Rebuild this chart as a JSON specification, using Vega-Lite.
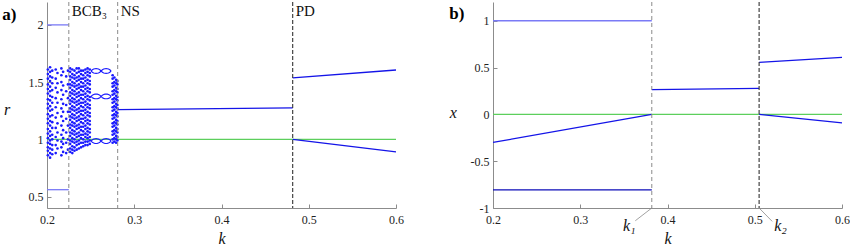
{
"$schema":"https://vega.github.io/schema/vega-lite/v6.json",
"padding":{"left":2,"top":1,"right":0,"bottom":0},
"bounds":"flush",
"spacing":97,
"resolve":{"scale":{"x":"independent","y":"independent","color":"independent"}},
"config":{
 "view":{"stroke":null},
 "font":"Liberation Serif",
 "text":{"font":"Liberation Serif"},
 "axis":{"domainColor":"#8c8c8c","domainWidth":1,"tickColor":"#8c8c8c","tickSize":-4,"tickWidth":1,"labelPadding":8,"labelFont":"Liberation Serif","labelFontSize":12,"labelColor":"#222","labelFlush":false,"labelOverlap":false,"labelBound":false,"grid":false,"titleFont":"Liberation Serif","titleFontSize":16,"titleFontStyle":"italic","titleFontWeight":"normal","titleColor":"#111"},
 "axisX":{"labelPadding":10}
},
"datasets":{
 "segA":[
  {"k":0.2,"r":1,"k2":0.6,"r2":1,"tone":"fixed"},
  {"k":0.2,"r":2.0,"k2":0.225,"r2":2.0,"tone":"faint"},
  {"k":0.2,"r":0.56,"k2":0.225,"r2":0.56,"tone":"faint"},
  {"k":0.281,"r":1.26,"k2":0.4816,"r2":1.275,"tone":"orbit"},
  {"k":0.4816,"r":1.537,"k2":0.6,"r2":1.606,"tone":"orbit"},
  {"k":0.4816,"r":1.0,"k2":0.6,"r2":0.89,"tone":"orbit"}
 ],
 "bifA":[
  {"k":0.225,"r":2.08,"name":"BCB₃","kind":"minor"},
  {"k":0.281,"r":2.08,"name":"NS","kind":"minor"},
  {"k":0.4816,"r":2.08,"name":"PD","kind":"major"}
 ],
 "tagA":[{"k":0.1487,"r":2.087,"t":"a)"}],
 "segB":[
  {"k":0.2,"x":0,"k2":0.6,"x2":0,"tone":"fixed"},
  {"k":0.2,"x":1,"k2":0.382,"x2":1,"tone":"faint"},
  {"k":0.2,"x":-0.3,"k2":0.382,"x2":0,"tone":"orbit"},
  {"k":0.2,"x":-0.807,"k2":0.382,"x2":-0.807,"tone":"deep"},
  {"k":0.382,"x":0.264,"k2":0.505,"x2":0.277,"tone":"orbit"},
  {"k":0.505,"x":0.555,"k2":0.6,"x2":0.608,"tone":"orbit"},
  {"k":0.505,"x":0,"k2":0.6,"x2":-0.092,"tone":"orbit"}
 ],
 "bifB":[
  {"k":0.382,"name":"k₁","kind":"minor"},
  {"k":0.505,"name":"k₂","kind":"major"}
 ],
 "leadB":[
  {"k":0.382,"x":-1,"k2":0.3631,"x2":-1.136,"t":"k₁","kt":0.3562,"xt":-1.189},
  {"k":0.505,"x":-1,"k2":0.52,"x2":-1.143,"t":"k₂","kt":0.5295,"xt":-1.189}
 ],
 "tagB":[{"k":0.1498,"x":1.075,"t":"b)"}],
 "loops":[
  {"c":"U1a","k":0.2505,"r":1.597},{"c":"U1a","k":0.252,"r":1.608},{"c":"U1a","k":0.2535,"r":1.614},{"c":"U1a","k":0.255,"r":1.617},{"c":"U1a","k":0.2563,"r":1.618},{"c":"U1a","k":0.2575,"r":1.617},{"c":"U1a","k":0.259,"r":1.614},{"c":"U1a","k":0.2605,"r":1.608},{"c":"U1a","k":0.262,"r":1.597},
  {"c":"U1b","k":0.2505,"r":1.597},{"c":"U1b","k":0.252,"r":1.586},{"c":"U1b","k":0.2535,"r":1.580},{"c":"U1b","k":0.255,"r":1.577},{"c":"U1b","k":0.2563,"r":1.576},{"c":"U1b","k":0.2575,"r":1.577},{"c":"U1b","k":0.259,"r":1.580},{"c":"U1b","k":0.2605,"r":1.586},{"c":"U1b","k":0.262,"r":1.597},
  {"c":"U2a","k":0.262,"r":1.597},{"c":"U2a","k":0.2635,"r":1.608},{"c":"U2a","k":0.265,"r":1.614},{"c":"U2a","k":0.2665,"r":1.617},{"c":"U2a","k":0.2678,"r":1.618},{"c":"U2a","k":0.269,"r":1.617},{"c":"U2a","k":0.2705,"r":1.614},{"c":"U2a","k":0.272,"r":1.608},{"c":"U2a","k":0.2735,"r":1.597},
  {"c":"U2b","k":0.262,"r":1.597},{"c":"U2b","k":0.2635,"r":1.586},{"c":"U2b","k":0.265,"r":1.580},{"c":"U2b","k":0.2665,"r":1.577},{"c":"U2b","k":0.2678,"r":1.576},{"c":"U2b","k":0.269,"r":1.577},{"c":"U2b","k":0.2705,"r":1.580},{"c":"U2b","k":0.272,"r":1.586},{"c":"U2b","k":0.2735,"r":1.597},
  {"c":"M1a","k":0.2505,"r":1.375},{"c":"M1a","k":0.252,"r":1.386},{"c":"M1a","k":0.2535,"r":1.392},{"c":"M1a","k":0.255,"r":1.395},{"c":"M1a","k":0.2563,"r":1.396},{"c":"M1a","k":0.2575,"r":1.395},{"c":"M1a","k":0.259,"r":1.392},{"c":"M1a","k":0.2605,"r":1.386},{"c":"M1a","k":0.262,"r":1.375},
  {"c":"M1b","k":0.2505,"r":1.375},{"c":"M1b","k":0.252,"r":1.364},{"c":"M1b","k":0.2535,"r":1.358},{"c":"M1b","k":0.255,"r":1.355},{"c":"M1b","k":0.2563,"r":1.354},{"c":"M1b","k":0.2575,"r":1.355},{"c":"M1b","k":0.259,"r":1.358},{"c":"M1b","k":0.2605,"r":1.364},{"c":"M1b","k":0.262,"r":1.375},
  {"c":"M2a","k":0.262,"r":1.375},{"c":"M2a","k":0.2635,"r":1.386},{"c":"M2a","k":0.265,"r":1.392},{"c":"M2a","k":0.2665,"r":1.395},{"c":"M2a","k":0.2678,"r":1.396},{"c":"M2a","k":0.269,"r":1.395},{"c":"M2a","k":0.2705,"r":1.392},{"c":"M2a","k":0.272,"r":1.386},{"c":"M2a","k":0.2735,"r":1.375},
  {"c":"M2b","k":0.262,"r":1.375},{"c":"M2b","k":0.2635,"r":1.364},{"c":"M2b","k":0.265,"r":1.358},{"c":"M2b","k":0.2665,"r":1.355},{"c":"M2b","k":0.2678,"r":1.354},{"c":"M2b","k":0.269,"r":1.355},{"c":"M2b","k":0.2705,"r":1.358},{"c":"M2b","k":0.272,"r":1.364},{"c":"M2b","k":0.2735,"r":1.375},
  {"c":"L1a","k":0.2505,"r":0.985},{"c":"L1a","k":0.252,"r":0.996},{"c":"L1a","k":0.2535,"r":1.002},{"c":"L1a","k":0.255,"r":1.005},{"c":"L1a","k":0.2563,"r":1.006},{"c":"L1a","k":0.2575,"r":1.005},{"c":"L1a","k":0.259,"r":1.002},{"c":"L1a","k":0.2605,"r":0.996},{"c":"L1a","k":0.262,"r":0.985},
  {"c":"L1b","k":0.2505,"r":0.985},{"c":"L1b","k":0.252,"r":0.974},{"c":"L1b","k":0.2535,"r":0.968},{"c":"L1b","k":0.255,"r":0.965},{"c":"L1b","k":0.2563,"r":0.964},{"c":"L1b","k":0.2575,"r":0.965},{"c":"L1b","k":0.259,"r":0.968},{"c":"L1b","k":0.2605,"r":0.974},{"c":"L1b","k":0.262,"r":0.985},
  {"c":"L2a","k":0.262,"r":0.985},{"c":"L2a","k":0.2635,"r":0.996},{"c":"L2a","k":0.265,"r":1.002},{"c":"L2a","k":0.2665,"r":1.005},{"c":"L2a","k":0.2678,"r":1.006},{"c":"L2a","k":0.269,"r":1.005},{"c":"L2a","k":0.2705,"r":1.002},{"c":"L2a","k":0.272,"r":0.996},{"c":"L2a","k":0.2735,"r":0.985},
  {"c":"L2b","k":0.262,"r":0.985},{"c":"L2b","k":0.2635,"r":0.974},{"c":"L2b","k":0.265,"r":0.968},{"c":"L2b","k":0.2665,"r":0.965},{"c":"L2b","k":0.2678,"r":0.964},{"c":"L2b","k":0.269,"r":0.965},{"c":"L2b","k":0.2705,"r":0.968},{"c":"L2b","k":0.272,"r":0.974},{"c":"L2b","k":0.2735,"r":0.985}
 ],
 "cloud":[
  {"k":0.201,"r":0.86},{"k":0.201,"r":0.90},{"k":0.201,"r":0.93},{"k":0.201,"r":0.97},{"k":0.201,"r":1.01},{"k":0.201,"r":1.05},{"k":0.201,"r":1.09},{"k":0.201,"r":1.14},{"k":0.201,"r":1.18},{"k":0.201,"r":1.22},{"k":0.201,"r":1.27},{"k":0.201,"r":1.31},{"k":0.201,"r":1.35},{"k":0.201,"r":1.40},{"k":0.201,"r":1.44},{"k":0.201,"r":1.48},{"k":0.201,"r":1.53},{"k":0.201,"r":1.57},{"k":0.201,"r":1.61},
  {"k":0.2035,"r":0.84},{"k":0.2035,"r":0.88},{"k":0.2035,"r":0.92},{"k":0.2035,"r":0.96},{"k":0.2035,"r":0.99},{"k":0.2035,"r":1.03},{"k":0.2035,"r":1.07},{"k":0.2035,"r":1.12},{"k":0.2035,"r":1.16},{"k":0.2035,"r":1.20},{"k":0.2035,"r":1.25},{"k":0.2035,"r":1.29},{"k":0.2035,"r":1.34},{"k":0.2035,"r":1.38},{"k":0.2035,"r":1.42},{"k":0.2035,"r":1.46},{"k":0.2035,"r":1.51},{"k":0.2035,"r":1.55},{"k":0.2035,"r":1.59},{"k":0.2035,"r":1.63},
  {"k":0.206,"r":0.87},{"k":0.206,"r":0.91},{"k":0.206,"r":0.95},{"k":0.206,"r":1.00},{"k":0.206,"r":1.04},{"k":0.206,"r":1.10},{"k":0.206,"r":1.15},{"k":0.206,"r":1.21},{"k":0.206,"r":1.26},{"k":0.206,"r":1.32},{"k":0.206,"r":1.37},{"k":0.206,"r":1.43},{"k":0.206,"r":1.49},{"k":0.206,"r":1.54},{"k":0.206,"r":1.60},
  {"k":0.21,"r":0.88},{"k":0.21,"r":0.95},{"k":0.21,"r":1.02},{"k":0.21,"r":1.10},{"k":0.21,"r":1.19},{"k":0.21,"r":1.28},{"k":0.21,"r":1.36},{"k":0.21,"r":1.45},{"k":0.21,"r":1.53},{"k":0.21,"r":1.61},
  {"k":0.212,"r":0.92},{"k":0.212,"r":0.99},{"k":0.212,"r":1.06},{"k":0.212,"r":1.14},{"k":0.212,"r":1.23},{"k":0.212,"r":1.32},{"k":0.212,"r":1.41},{"k":0.212,"r":1.49},{"k":0.212,"r":1.58},
  {"k":0.2165,"r":0.86},{"k":0.2165,"r":0.93},{"k":0.2165,"r":0.98},{"k":0.2165,"r":1.04},{"k":0.2165,"r":1.12},{"k":0.2165,"r":1.20},{"k":0.2165,"r":1.27},{"k":0.2165,"r":1.35},{"k":0.2165,"r":1.43},{"k":0.2165,"r":1.50},{"k":0.2165,"r":1.56},{"k":0.2165,"r":1.62},
  {"k":0.2185,"r":0.89},{"k":0.2185,"r":0.96},{"k":0.2185,"r":1.01},{"k":0.2185,"r":1.08},{"k":0.2185,"r":1.16},{"k":0.2185,"r":1.24},{"k":0.2185,"r":1.31},{"k":0.2185,"r":1.39},{"k":0.2185,"r":1.47},{"k":0.2185,"r":1.59},
  {"k":0.222,"r":0.88},{"k":0.222,"r":0.97},{"k":0.222,"r":1.06},{"k":0.222,"r":1.18},{"k":0.222,"r":1.30},{"k":0.222,"r":1.42},{"k":0.222,"r":1.55},
  {"k":0.224,"r":0.91},{"k":0.224,"r":1.00},{"k":0.224,"r":1.12},{"k":0.224,"r":1.24},{"k":0.224,"r":1.36},{"k":0.224,"r":1.48},{"k":0.224,"r":1.60},
  {"k":0.2265,"r":0.89},{"k":0.2265,"r":0.92},{"k":0.2265,"r":0.96},{"k":0.2265,"r":0.99},{"k":0.2265,"r":1.03},{"k":0.2265,"r":1.06},{"k":0.2265,"r":1.10},{"k":0.2265,"r":1.13},{"k":0.2265,"r":1.17},{"k":0.2265,"r":1.20},{"k":0.2265,"r":1.24},{"k":0.2265,"r":1.27},{"k":0.2265,"r":1.31},{"k":0.2265,"r":1.34},{"k":0.2265,"r":1.38},{"k":0.2265,"r":1.41},{"k":0.2265,"r":1.45},{"k":0.2265,"r":1.48},{"k":0.2265,"r":1.52},{"k":0.2265,"r":1.55},{"k":0.2265,"r":1.59},{"k":0.2265,"r":1.62},
  {"k":0.229,"r":0.88},{"k":0.229,"r":0.91},{"k":0.229,"r":0.94},{"k":0.229,"r":0.98},{"k":0.229,"r":1.01},{"k":0.229,"r":1.05},{"k":0.229,"r":1.08},{"k":0.229,"r":1.12},{"k":0.229,"r":1.15},{"k":0.229,"r":1.19},{"k":0.229,"r":1.22},{"k":0.229,"r":1.26},{"k":0.229,"r":1.29},{"k":0.229,"r":1.33},{"k":0.229,"r":1.36},{"k":0.229,"r":1.40},{"k":0.229,"r":1.43},{"k":0.229,"r":1.47},{"k":0.229,"r":1.50},{"k":0.229,"r":1.54},{"k":0.229,"r":1.57},{"k":0.229,"r":1.61},
  {"k":0.2315,"r":0.90},{"k":0.2315,"r":0.93},{"k":0.2315,"r":0.97},{"k":0.2315,"r":1.00},{"k":0.2315,"r":1.04},{"k":0.2315,"r":1.07},{"k":0.2315,"r":1.11},{"k":0.2315,"r":1.14},{"k":0.2315,"r":1.18},{"k":0.2315,"r":1.21},{"k":0.2315,"r":1.25},{"k":0.2315,"r":1.28},{"k":0.2315,"r":1.32},{"k":0.2315,"r":1.35},{"k":0.2315,"r":1.39},{"k":0.2315,"r":1.42},{"k":0.2315,"r":1.46},{"k":0.2315,"r":1.49},{"k":0.2315,"r":1.53},{"k":0.2315,"r":1.56},{"k":0.2315,"r":1.60},
  {"k":0.234,"r":0.91},{"k":0.234,"r":0.95},{"k":0.234,"r":0.98},{"k":0.234,"r":1.02},{"k":0.234,"r":1.05},{"k":0.234,"r":1.09},{"k":0.234,"r":1.12},{"k":0.234,"r":1.16},{"k":0.234,"r":1.19},{"k":0.234,"r":1.23},{"k":0.234,"r":1.26},{"k":0.234,"r":1.30},{"k":0.234,"r":1.33},{"k":0.234,"r":1.37},{"k":0.234,"r":1.40},{"k":0.234,"r":1.44},{"k":0.234,"r":1.47},{"k":0.234,"r":1.51},{"k":0.234,"r":1.54},{"k":0.234,"r":1.58},{"k":0.234,"r":1.62},
  {"k":0.2365,"r":0.92},{"k":0.2365,"r":0.96},{"k":0.2365,"r":0.99},{"k":0.2365,"r":1.03},{"k":0.2365,"r":1.06},{"k":0.2365,"r":1.10},{"k":0.2365,"r":1.13},{"k":0.2365,"r":1.17},{"k":0.2365,"r":1.20},{"k":0.2365,"r":1.24},{"k":0.2365,"r":1.27},{"k":0.2365,"r":1.31},{"k":0.2365,"r":1.34},{"k":0.2365,"r":1.38},{"k":0.2365,"r":1.41},{"k":0.2365,"r":1.45},{"k":0.2365,"r":1.48},{"k":0.2365,"r":1.52},{"k":0.2365,"r":1.55},{"k":0.2365,"r":1.59},{"k":0.2365,"r":1.62},
  {"k":0.239,"r":0.93},{"k":0.239,"r":0.97},{"k":0.239,"r":1.01},{"k":0.239,"r":1.04},{"k":0.239,"r":1.08},{"k":0.239,"r":1.11},{"k":0.239,"r":1.15},{"k":0.239,"r":1.18},{"k":0.239,"r":1.22},{"k":0.239,"r":1.25},{"k":0.239,"r":1.29},{"k":0.239,"r":1.32},{"k":0.239,"r":1.36},{"k":0.239,"r":1.39},{"k":0.239,"r":1.43},{"k":0.239,"r":1.46},{"k":0.239,"r":1.50},{"k":0.239,"r":1.53},{"k":0.239,"r":1.57},{"k":0.239,"r":1.60},
  {"k":0.2415,"r":0.94},{"k":0.2415,"r":0.97},{"k":0.2415,"r":1.00},{"k":0.2415,"r":1.04},{"k":0.2415,"r":1.07},{"k":0.2415,"r":1.11},{"k":0.2415,"r":1.14},{"k":0.2415,"r":1.18},{"k":0.2415,"r":1.21},{"k":0.2415,"r":1.25},{"k":0.2415,"r":1.28},{"k":0.2415,"r":1.32},{"k":0.2415,"r":1.35},{"k":0.2415,"r":1.39},{"k":0.2415,"r":1.42},{"k":0.2415,"r":1.46},{"k":0.2415,"r":1.49},{"k":0.2415,"r":1.53},{"k":0.2415,"r":1.56},{"k":0.2415,"r":1.60},
  {"k":0.244,"r":0.95},{"k":0.244,"r":0.98},{"k":0.244,"r":1.02},{"k":0.244,"r":1.05},{"k":0.244,"r":1.09},{"k":0.244,"r":1.12},{"k":0.244,"r":1.16},{"k":0.244,"r":1.19},{"k":0.244,"r":1.23},{"k":0.244,"r":1.26},{"k":0.244,"r":1.30},{"k":0.244,"r":1.33},{"k":0.244,"r":1.37},{"k":0.244,"r":1.40},{"k":0.244,"r":1.44},{"k":0.244,"r":1.47},{"k":0.244,"r":1.51},{"k":0.244,"r":1.54},{"k":0.244,"r":1.58},{"k":0.244,"r":1.61},
  {"k":0.2465,"r":0.95},{"k":0.2465,"r":0.98},{"k":0.2465,"r":1.01},{"k":0.2465,"r":1.04},{"k":0.2465,"r":1.07},{"k":0.2465,"r":1.10},{"k":0.2465,"r":1.14},{"k":0.2465,"r":1.17},{"k":0.2465,"r":1.21},{"k":0.2465,"r":1.24},{"k":0.2465,"r":1.28},{"k":0.2465,"r":1.31},{"k":0.2465,"r":1.35},{"k":0.2465,"r":1.38},{"k":0.2465,"r":1.42},{"k":0.2465,"r":1.45},{"k":0.2465,"r":1.49},{"k":0.2465,"r":1.52},{"k":0.2465,"r":1.56},{"k":0.2465,"r":1.59},{"k":0.2465,"r":1.62},
  {"k":0.249,"r":0.96},{"k":0.249,"r":0.99},{"k":0.249,"r":1.02},{"k":0.249,"r":1.06},{"k":0.249,"r":1.09},{"k":0.249,"r":1.13},{"k":0.249,"r":1.16},{"k":0.249,"r":1.20},{"k":0.249,"r":1.23},{"k":0.249,"r":1.27},{"k":0.249,"r":1.30},{"k":0.249,"r":1.34},{"k":0.249,"r":1.37},{"k":0.249,"r":1.41},{"k":0.249,"r":1.44},{"k":0.249,"r":1.48},{"k":0.249,"r":1.51},{"k":0.249,"r":1.55},{"k":0.249,"r":1.58},{"k":0.249,"r":1.61},
  {"k":0.2752,"r":0.97},{"k":0.2752,"r":1.00},{"k":0.2752,"r":1.04},{"k":0.2752,"r":1.07},{"k":0.2752,"r":1.11},{"k":0.2752,"r":1.14},{"k":0.2752,"r":1.18},{"k":0.2752,"r":1.21},{"k":0.2752,"r":1.25},{"k":0.2752,"r":1.28},{"k":0.2752,"r":1.32},{"k":0.2752,"r":1.35},{"k":0.2752,"r":1.39},{"k":0.2752,"r":1.42},{"k":0.2752,"r":1.46},{"k":0.2752,"r":1.49},{"k":0.2752,"r":1.53},{"k":0.2752,"r":1.56},
  {"k":0.2772,"r":0.98},{"k":0.2772,"r":1.01},{"k":0.2772,"r":1.05},{"k":0.2772,"r":1.08},{"k":0.2772,"r":1.12},{"k":0.2772,"r":1.15},{"k":0.2772,"r":1.19},{"k":0.2772,"r":1.22},{"k":0.2772,"r":1.26},{"k":0.2772,"r":1.29},{"k":0.2772,"r":1.33},{"k":0.2772,"r":1.36},{"k":0.2772,"r":1.40},{"k":0.2772,"r":1.43},{"k":0.2772,"r":1.47},{"k":0.2772,"r":1.50},{"k":0.2772,"r":1.54},
  {"k":0.2792,"r":0.97},{"k":0.2792,"r":1.00},{"k":0.2792,"r":1.03},{"k":0.2792,"r":1.07},{"k":0.2792,"r":1.10},{"k":0.2792,"r":1.14},{"k":0.2792,"r":1.17},{"k":0.2792,"r":1.21},{"k":0.2792,"r":1.24},{"k":0.2792,"r":1.28},{"k":0.2792,"r":1.31},{"k":0.2792,"r":1.35},{"k":0.2792,"r":1.38},{"k":0.2792,"r":1.42},{"k":0.2792,"r":1.45},{"k":0.2792,"r":1.49},{"k":0.2792,"r":1.52},
  {"k":0.2807,"r":0.99},{"k":0.2807,"r":1.02},{"k":0.2807,"r":1.06},{"k":0.2807,"r":1.09},{"k":0.2807,"r":1.13},{"k":0.2807,"r":1.16},{"k":0.2807,"r":1.20},{"k":0.2807,"r":1.23},{"k":0.2807,"r":1.27},{"k":0.2807,"r":1.30},{"k":0.2807,"r":1.34},{"k":0.2807,"r":1.37},{"k":0.2807,"r":1.41},{"k":0.2807,"r":1.44},{"k":0.2807,"r":1.48},{"k":0.2807,"r":1.51}
 ]
},
"hconcat":[
 {
  "width":349,"height":206,
  "encoding":{
   "x":{"field":"k","type":"quantitative","scale":{"domain":[0.2,0.6],"nice":false,"zero":false},"axis":{"values":[0.2,0.3,0.4,0.5,0.6],"labelExpr":"''+datum.value","labelFont":"Liberation Serif","titleFont":"Liberation Serif","title":"k","titleY":30,"titleBaseline":"middle"}}
  },
  "layer":[
   {"data":{"name":"segA"},"transform":[{"filter":"datum.tone=='fixed'"}],"mark":{"type":"rule","strokeWidth":1.3},"encoding":{
     "y":{"field":"r","type":"quantitative","scale":{"domain":[0.4,2.2],"nice":false,"zero":false},"axis":{"values":[0.5,1,1.5,2],"labelExpr":"''+datum.value","labelFont":"Liberation Serif","titleFont":"Liberation Serif","title":"r","titleAngle":0,"titleX":-40.5,"titleY":112,"titleAlign":"center","titleBaseline":"alphabetic"}},
     "x2":{"field":"k2"},"y2":{"field":"r2"},"color":{"field":"tone","type":"nominal","scale":{"domain":["fixed","faint","orbit","deep"],"range":["#5ccf5c","#7a7af6","#1414e8","#0c0cb8"]},"legend":null}}},
   {"data":{"name":"cloud"},"mark":{"type":"circle","size":7,"color":"#1a1aff","opacity":1},"encoding":{
     "y":{"field":"r","type":"quantitative","scale":{"domain":[0.4,2.2],"nice":false,"zero":false},"axis":{"values":[0.5,1,1.5,2],"labelExpr":"''+datum.value","labelFont":"Liberation Serif","titleFont":"Liberation Serif","title":"r","titleAngle":0,"titleX":-40.5,"titleY":112,"titleAlign":"center","titleBaseline":"alphabetic"}}}},
   {"data":{"name":"loops"},"mark":{"type":"line","strokeWidth":1.1,"color":"#1a1aff"},"encoding":{
     "y":{"field":"r","type":"quantitative","scale":{"domain":[0.4,2.2],"nice":false,"zero":false},"axis":{"values":[0.5,1,1.5,2],"labelExpr":"''+datum.value","labelFont":"Liberation Serif","titleFont":"Liberation Serif","title":"r","titleAngle":0,"titleX":-40.5,"titleY":112,"titleAlign":"center","titleBaseline":"alphabetic"}},
     "detail":{"field":"c","type":"nominal"}}},
   {"data":{"name":"segA"},"transform":[{"filter":"datum.tone!='fixed'"}],"mark":{"type":"rule","strokeWidth":1.3},"encoding":{
     "y":{"field":"r","type":"quantitative","scale":{"domain":[0.4,2.2],"nice":false,"zero":false},"axis":{"values":[0.5,1,1.5,2],"labelExpr":"''+datum.value","labelFont":"Liberation Serif","titleFont":"Liberation Serif","title":"r","titleAngle":0,"titleX":-40.5,"titleY":112,"titleAlign":"center","titleBaseline":"alphabetic"}},
     "x2":{"field":"k2"},"y2":{"field":"r2"},"color":{"field":"tone","type":"nominal","legend":null}}},
   {"data":{"name":"bifA"},"transform":[{"filter":"datum.kind=='minor'"}],"mark":{"type":"rule","color":"#8a8a8a","strokeWidth":1,"strokeDash":[4,3]}},
   {"data":{"name":"bifA"},"transform":[{"filter":"datum.kind=='major'"}],"mark":{"type":"rule","color":"#333333","strokeWidth":1.1,"strokeDash":[4,2]}},
   {"data":{"name":"bifA"},"mark":{"type":"text","align":"left","baseline":"alphabetic","dx":3,"fontSize":15,"font":"Liberation Serif","color":"#111"},"encoding":{
     "y":{"field":"r","type":"quantitative","scale":{"domain":[0.4,2.2],"nice":false,"zero":false},"axis":{"values":[0.5,1,1.5,2],"labelExpr":"''+datum.value","labelFont":"Liberation Serif","titleFont":"Liberation Serif","title":"r","titleAngle":0,"titleX":-40.5,"titleY":112,"titleAlign":"center","titleBaseline":"alphabetic"}},
     "text":{"field":"name"}}},
   {"data":{"name":"tagA"},"mark":{"type":"text","align":"left","baseline":"middle","fontSize":17,"fontWeight":"bold","font":"Liberation Serif","color":"#000"},"encoding":{
     "y":{"field":"r","type":"quantitative","scale":{"domain":[0.4,2.2],"nice":false,"zero":false},"axis":{"values":[0.5,1,1.5,2],"labelExpr":"''+datum.value","labelFont":"Liberation Serif","titleFont":"Liberation Serif","title":"r","titleAngle":0,"titleX":-40.5,"titleY":112,"titleAlign":"center","titleBaseline":"alphabetic"}},
     "text":{"field":"t"}}}
  ]
 },
 {
  "width":349,"height":206,
  "encoding":{
   "x":{"field":"k","type":"quantitative","scale":{"domain":[0.2,0.6],"nice":false,"zero":false},"axis":{"values":[0.2,0.3,0.4,0.5,0.6],"labelExpr":"''+datum.value","labelFont":"Liberation Serif","titleFont":"Liberation Serif","title":"k","titleY":30,"titleBaseline":"middle"}}
  },
  "layer":[
   {"data":{"name":"segB"},"mark":{"type":"rule","strokeWidth":1.3},"encoding":{
     "y":{"field":"x","type":"quantitative","scale":{"domain":[-1,1.2],"nice":false,"zero":false},"axis":{"values":[-1,-0.5,0,0.5,1],"labelExpr":"''+datum.value","labelFont":"Liberation Serif","titleFont":"Liberation Serif","title":"x","titleAngle":0,"titleX":-40.3,"titleY":115,"titleAlign":"center","titleBaseline":"alphabetic"}},
     "x2":{"field":"k2"},"y2":{"field":"x2"},"color":{"field":"tone","type":"nominal","scale":{"domain":["fixed","faint","orbit","deep"],"range":["#5ccf5c","#7a7af6","#1414e8","#0c0cb8"]},"legend":null}}},
   {"data":{"name":"bifB"},"transform":[{"filter":"datum.kind=='minor'"}],"mark":{"type":"rule","color":"#8a8a8a","strokeWidth":1,"strokeDash":[4,3]}},
   {"data":{"name":"bifB"},"transform":[{"filter":"datum.kind=='major'"}],"mark":{"type":"rule","color":"#333333","strokeWidth":1.1,"strokeDash":[4,2]}},
   {"data":{"name":"leadB"},"mark":{"type":"rule","color":"#8a8a8a","strokeWidth":0.8},"encoding":{
     "y":{"field":"x","type":"quantitative","scale":{"domain":[-1,1.2],"nice":false,"zero":false},"axis":{"values":[-1,-0.5,0,0.5,1],"labelExpr":"''+datum.value","labelFont":"Liberation Serif","titleFont":"Liberation Serif","title":"x","titleAngle":0,"titleX":-40.3,"titleY":115,"titleAlign":"center","titleBaseline":"alphabetic"}},
     "x2":{"field":"k2"},"y2":{"field":"x2"}}},
   {"data":{"name":"leadB"},"mark":{"type":"text","align":"center","baseline":"middle","fontSize":16,"fontStyle":"italic","font":"Liberation Serif","color":"#111"},"encoding":{
     "x":{"field":"kt","type":"quantitative"},
     "y":{"field":"xt","type":"quantitative","scale":{"domain":[-1,1.2],"nice":false,"zero":false},"axis":{"values":[-1,-0.5,0,0.5,1],"labelExpr":"''+datum.value","labelFont":"Liberation Serif","titleFont":"Liberation Serif","title":"x","titleAngle":0,"titleX":-40.3,"titleY":115,"titleAlign":"center","titleBaseline":"alphabetic"}},
     "text":{"field":"t"}}},
   {"data":{"name":"tagB"},"mark":{"type":"text","align":"left","baseline":"middle","fontSize":17,"fontWeight":"bold","font":"Liberation Serif","color":"#000"},"encoding":{
     "y":{"field":"x","type":"quantitative","scale":{"domain":[-1,1.2],"nice":false,"zero":false},"axis":{"values":[-1,-0.5,0,0.5,1],"labelExpr":"''+datum.value","labelFont":"Liberation Serif","titleFont":"Liberation Serif","title":"x","titleAngle":0,"titleX":-40.3,"titleY":115,"titleAlign":"center","titleBaseline":"alphabetic"}},
     "text":{"field":"t"}}}
  ]
 }
]
}
